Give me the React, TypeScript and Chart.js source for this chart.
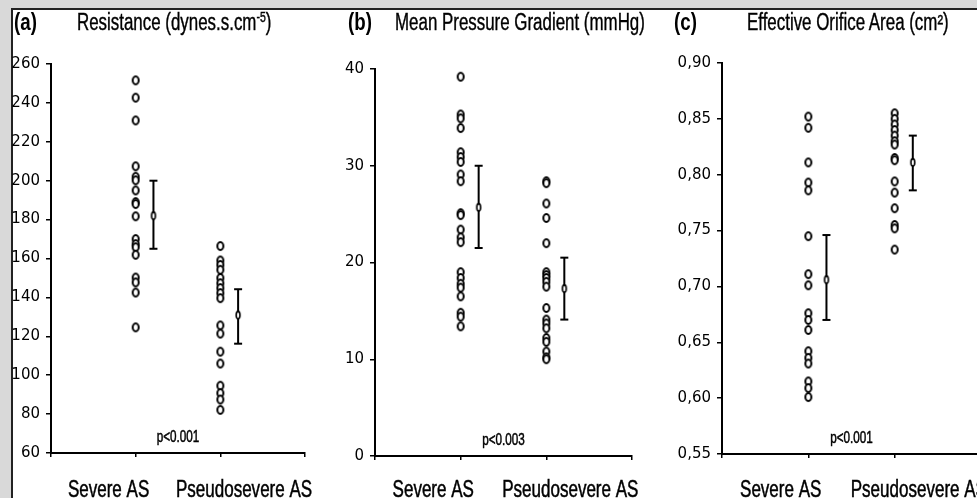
import React, { useEffect, useRef } from 'react';
import { Chart, registerables } from 'chart.js';

Chart.register(...registerables);

// ---------- data ----------
const categories = ['Severe AS', 'Pseudosevere AS'];

const resistanceSevere = [251.6, 242.7, 231, 207.4, 202, 200.2, 195, 189, 188, 181.7, 170, 167.4, 165.8, 161.9, 150.2, 147.7, 142.5, 124.6];
const resistancePseudo = [166.4, 159, 156.7, 154.2, 150, 147.3, 144.8, 142.2, 139.6, 125.6, 121.4, 112.1, 106, 94.6, 90.8, 87.5, 82.2];
const resistanceMean = [182, 130.9];
const resistanceLow = [165, 116.2];
const resistanceHigh = [200, 144.2];
const resistanceTicks = [60, 80, 100, 120, 140, 160, 180, 200, 220, 240, 260];

const gradientSevere = [39.2, 35.3, 34.9, 33.9, 31.4, 30.9, 30.4, 29.1, 28.4, 25.1, 24.9, 23.4, 22.6, 22.1, 19.0, 18.4, 17.8, 17.4, 16.5, 14.8, 14.4, 13.4];
const gradientPseudo = [28.4, 28.2, 26.1, 24.6, 22.0, 19.0, 18.7, 18.4, 18.0, 17.5, 15.3, 14.1, 13.7, 13.2, 12.2, 11.8, 10.8, 10.2, 10.0];
const gradientMean = [25.7, 17.3];
const gradientLow = [21.5, 14.1];
const gradientHigh = [30.0, 20.5];
const gradientTicks = [0, 10, 20, 30, 40];

const eoaSevere = [0.852, 0.842, 0.811, 0.793, 0.786, 0.745, 0.711, 0.701, 0.676, 0.670, 0.661, 0.642, 0.636, 0.631, 0.615, 0.609, 0.601];
const eoaPseudo = [0.855, 0.850, 0.845, 0.840, 0.835, 0.830, 0.827, 0.815, 0.813, 0.794, 0.784, 0.770, 0.755, 0.752, 0.733];
const eoaMean = [0.706, 0.811];
const eoaLow = [0.670, 0.786];
const eoaHigh = [0.746, 0.835];
const eoaTicks = [0.55, 0.60, 0.65, 0.70, 0.75, 0.80, 0.85, 0.90];

const panelLetters = ['(a)', '(b)', '(c)'];
const pValues = ['p<0.001', 'p<0.003', 'p<0.001'];

// ---------- layout (styles, not data) ----------
const W = 977;
const H = 498;
const BAR_OFFSET = 0.21;
const FONT = '"Liberation Sans", Arial, Helvetica, sans-serif';

type Panel = {
  severe: number[];
  pseudo: number[];
  mean: number[];
  low: number[];
  high: number[];
  ticks: number[];
  fmt: (v: number) => string;
  pValue: string;
  canvasLeft: number;
  canvasWidth: number;
  areaLeft: number;
  areaRight: number;
  areaTop: number;
  areaBottom: number;
};

const panels: Panel[] = [
  {
    severe: resistanceSevere, pseudo: resistancePseudo, mean: resistanceMean, low: resistanceLow, high: resistanceHigh,
    ticks: resistanceTicks, fmt: (v) => String(v), pValue: pValues[0],
    canvasLeft: 0, canvasWidth: 322, areaLeft: 51, areaRight: 305, areaTop: 64, areaBottom: 453,
  },
  {
    severe: gradientSevere, pseudo: gradientPseudo, mean: gradientMean, low: gradientLow, high: gradientHigh,
    ticks: gradientTicks, fmt: (v) => String(v), pValue: pValues[1],
    canvasLeft: 322, canvasWidth: 325, areaLeft: 375, areaRight: 632, areaTop: 69, areaBottom: 456,
  },
  {
    severe: eoaSevere, pseudo: eoaPseudo, mean: eoaMean, low: eoaLow, high: eoaHigh,
    ticks: eoaTicks, fmt: (v) => v.toFixed(2).replace('.', ','), pValue: pValues[2],
    canvasLeft: 647, canvasWidth: 340, areaLeft: 722, areaRight: 981, areaTop: 63, areaBottom: 454,
  },
];

function makeEllipse(rx: number, ry: number, lw: number, fill: string | null): HTMLCanvasElement {
  const c = document.createElement('canvas');
  const w = Math.ceil(2 * rx + lw + 2);
  const h = Math.ceil(2 * ry + lw + 2);
  c.width = w;
  c.height = h;
  const g = c.getContext('2d')!;
  g.beginPath();
  g.ellipse(w / 2, h / 2, rx, ry, 0, 0, Math.PI * 2);
  if (fill) {
    g.fillStyle = fill;
    g.fill();
  }
  g.lineWidth = lw;
  g.strokeStyle = '#000';
  g.stroke();
  return c;
}

const labelPlugin = {
  id: 'panelLabels',
  afterDraw(chart: any, _args: any, opts: any) {
    const { ctx, chartArea, scales } = chart;
    const xs = scales.x;
    ctx.save();
    ctx.fillStyle = '#000';
    ctx.strokeStyle = '#000';
    ctx.lineWidth = 0.5;
    ctx.textAlign = 'center';
    ctx.textBaseline = 'alphabetic';
    ctx.font = `23px ${FONT}`;
    const shifts = [-0.32, 0.28];
    categories.forEach((c, i) => {
      const px = xs.getPixelForValue(i + 1 + shifts[i]);
      ctx.save();
      ctx.translate(px, chart.height - 1);
      ctx.scale(0.74, 1);
      ctx.fillText(c, 0, 0);
      ctx.strokeText(c, 0, 0);
      ctx.restore();
    });
    ctx.font = `16px ${FONT}`;
    const pp = xs.getPixelForValue(1.5);
    ctx.translate(pp, chartArea.bottom - 11);
    ctx.scale(0.73, 1);
    ctx.fillText(opts.pValue, 0, 0);
    ctx.strokeText(opts.pValue, 0, 0);
    ctx.restore();
  },
};

function PanelChart({ p }: { p: Panel }) {
  const ref = useRef<HTMLCanvasElement>(null);
  useEffect(() => {
    const pointImg = makeEllipse(3.0, 3.9, 2.0, '#fff');
    const meanImg = makeEllipse(1.9, 3.6, 1.6, '#fff');
    const yWidth = p.areaLeft - p.canvasLeft;
    const xHeight = H - p.areaBottom;
    const rightPad = p.canvasWidth - (p.areaRight - p.canvasLeft);
    const errDataset = (i: number) => ({
      data: [
        { x: i + 1 + BAR_OFFSET, y: p.high[i] },
        { x: i + 1 + BAR_OFFSET, y: p.low[i] },
      ],
      showLine: true,
      borderColor: '#000',
      borderWidth: 2,
      pointStyle: 'line',
      pointRadius: 4,
      pointBorderWidth: 2,
      pointBorderColor: '#000',
    });
    const chart = new Chart(ref.current!, {
      type: 'scatter',
      data: {
        datasets: [
          {
            data: p.mean.map((m, i) => ({ x: i + 1 + BAR_OFFSET, y: m })),
            pointStyle: meanImg as any,
            pointRadius: 4,
          },
          errDataset(0),
          errDataset(1),
          {
            data: [
              ...p.severe.map((v) => ({ x: 1, y: v })),
              ...p.pseudo.map((v) => ({ x: 2, y: v })),
            ],
            pointStyle: pointImg as any,
            pointRadius: 4,
          },
        ] as any,
      },
      options: {
        animation: false,
        responsive: false,
        devicePixelRatio: 1,
        events: [],
        layout: { padding: { left: 0, right: rightPad, top: p.areaTop, bottom: 0 } },
        plugins: {
          legend: { display: false },
          tooltip: { enabled: false },
          title: { display: false },
          panelLabels: { pValue: p.pValue },
        } as any,
        scales: {
          x: {
            type: 'linear',
            min: 0,
            max: 3,
            afterBuildTicks: (s: any) => {
              s.ticks = [0, 1, 2, 3].map((v) => ({ value: v }));
            },
            afterFit: (s: any) => {
              s.height = xHeight;
            },
            ticks: { callback: () => '', padding: 0 },
            grid: { display: true, drawOnChartArea: false, drawTicks: true, tickLength: 4, color: '#000', lineWidth: 1.5 },
            border: { display: true, color: '#000', width: 2 },
          },
          y: {
            type: 'linear',
            min: p.ticks[0],
            max: p.ticks[p.ticks.length - 1],
            afterBuildTicks: (s: any) => {
              s.ticks = p.ticks.map((v) => ({ value: v }));
            },
            afterFit: (s: any) => {
              s.width = yWidth;
            },
            ticks: {
              color: '#000',
              padding: 6,
              font: { family: '"DejaVu Sans", Verdana, sans-serif', size: 15 },
              callback: (v: any) => p.fmt(Number(v)),
            },
            grid: { display: true, drawOnChartArea: false, drawTicks: true, tickLength: 5, color: '#000', lineWidth: 1.5 },
            border: { display: true, color: '#000', width: 2 },
          },
        },
      } as any,
      plugins: [labelPlugin as any],
    });
    return () => chart.destroy();
  }, [p]);
  return (
    <canvas
      ref={ref}
      width={p.canvasWidth}
      height={H}
      style={{ position: 'absolute', left: p.canvasLeft, top: 0, width: p.canvasWidth, height: H }}
    />
  );
}

const titleStyle = (left: number, size: number, bold: boolean, scale: number): React.CSSProperties => ({
  position: 'absolute',
  left,
  top: 30.5 - 0.8465 * size,
  fontFamily: FONT,
  fontSize: size,
  lineHeight: `${size}px`,
  fontWeight: bold ? 700 : 400,
  color: '#000',
  whiteSpace: 'nowrap',
  transform: `scaleX(${scale})`,
  transformOrigin: 'left top',
  WebkitTextStroke: bold ? '0px' : '0.4px #000',
});

export default function App() {
  const letterLeft = [14, 348, 674];
  const titleLeft = [77, 395, 747];
  const titles: React.ReactNode[] = [
    <>Resistance (dynes.s.cm<sup style={{ fontSize: '0.62em', lineHeight: 0, verticalAlign: '0.55em' }}>-5</sup>)</>,
    <>Mean Pressure Gradient (mmHg)</>,
    <>Effective Orifice Area (cm²)</>,
  ];
  return (
    <div style={{ position: 'fixed', left: 0, top: 0, width: W, height: H, overflow: 'hidden', background: '#d9d9d9' }}>
      <div
        style={{
          position: 'absolute',
          left: 11,
          top: 8,
          right: -10,
          bottom: -10,
          background: '#fff',
          borderLeft: '2px solid #222',
          borderTop: '2px solid #222',
        }}
      />
      {panels.map((p, i) => (
        <PanelChart key={i} p={p} />
      ))}
      {panelLetters.map((l, i) => (
        <span key={'l' + i} style={titleStyle(letterLeft[i], 24, true, 0.78)}>{l}</span>
      ))}
      {titles.map((t, i) => (
        <span key={'t' + i} style={titleStyle(titleLeft[i], 23, false, 0.735)}>{t}</span>
      ))}
    </div>
  );
}
